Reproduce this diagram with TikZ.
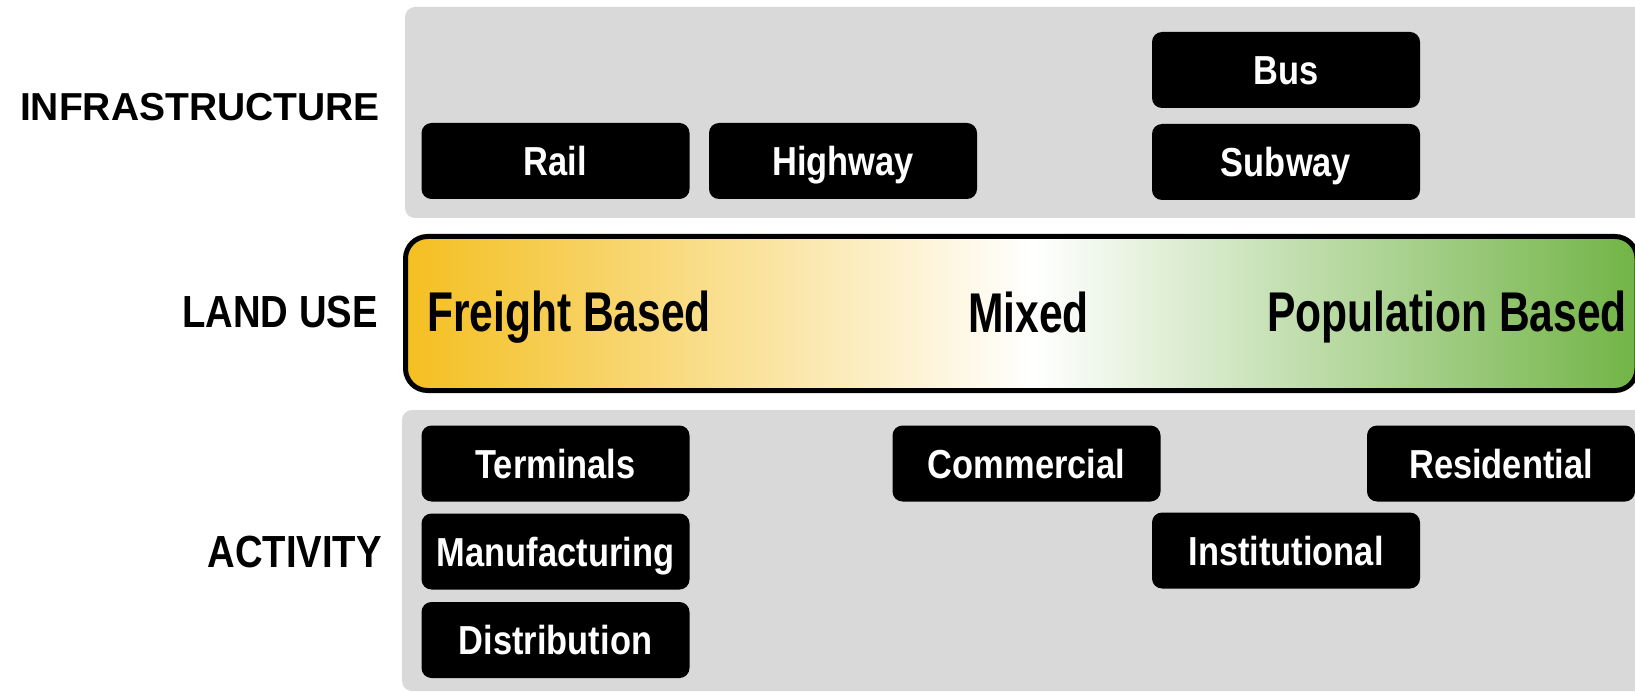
\documentclass[tikz,border=0pt]{standalone}
\usepackage{fontspec}
\setmainfont{Liberation Sans}
\newfontfamily\rowfont[FakeStretch=0.85]{Liberation Sans}
\newfontfamily\boxfont[FakeStretch=0.85]{Liberation Sans}
\newfontfamily\gradfont[FakeStretch=0.76]{Liberation Sans}
\definecolor{panelgray}{HTML}{D9D9D9}
\definecolor{freightyel}{HTML}{F4BF20}
\definecolor{popgreen}{HTML}{72B446}
\pgfdeclarehorizontalshading{landuse}{100bp}{color(0bp)=(freightyel); color(25bp)=(freightyel); color(50.5bp)=(white); color(75bp)=(popgreen); color(100bp)=(popgreen)}
\tikzset{
  panel/.style={fill=panelgray, rounded corners=10pt},
  tbox/.style={fill=black, rounded corners=10pt, text=white,
    font=\boxfont\bfseries\fontsize{40.5}{42}\selectfont,
    minimum width=268pt, minimum height=76pt, inner sep=0pt,
    text height=29pt, text depth=0pt},
  rowlabel/.style={anchor=base east, inner sep=0pt,
    font=\rowfont\bfseries\fontsize{45}{46}\selectfont},
  gradlabel/.style={inner sep=0pt,
    font=\gradfont\bfseries\fontsize{56}{58}\selectfont}
}
\begin{document}
\begin{tikzpicture}[x=1pt,y=-1pt]
\useasboundingbox (0,0) rectangle (1635,692);
\clip (0,0) rectangle (1635,692);
% panels
\path[panel] (405,7) rectangle (1660,218);
\path[panel] (402,410) rectangle (1660,691);
% land use bar
\path[draw=black, line width=5pt, rounded corners=22pt, shading=landuse]
  (405.5,236.5) rectangle (1637,390.5);
% row labels
\node[rowlabel, font=\bfseries\fontsize{39}{40}\selectfont] (infra) at (380,121) {INFRASTRUCTURE};
\node[rowlabel] (landuse) at (378,327) {LAND USE};
\node[rowlabel] (activity) at (382,567) {ACTIVITY};
% infrastructure boxes
\node[tbox] (rail) at (555.5,161) {Rail};
\node[tbox] (highway) at (843,161) {Highway};
\node[tbox] (bus) at (1286,70) {Bus};
\node[tbox] (subway) at (1286,162) {Subway};
% land use labels
\node[gradlabel, anchor=base west] (freight) at (427,332) {Freight Based};
\node[gradlabel, anchor=base west] (mixed) at (968,333) {Mixed};
\node[gradlabel, anchor=base east] (population) at (1627,332) {Population Based};
% activity boxes
\node[tbox] (terminals) at (555.5,463.5) {Terminals};
\node[tbox] (manufacturing) at (555.5,551.5) {Manufacturing};
\node[tbox] (distribution) at (555.5,640) {Distribution};
\node[tbox] (commercial) at (1026.5,463.5) {Commercial};
\node[tbox] (institutional) at (1286,550.5) {Institutional};
\node[tbox] (residential) at (1501,463.5) {Residential};
\end{tikzpicture}
\end{document}
